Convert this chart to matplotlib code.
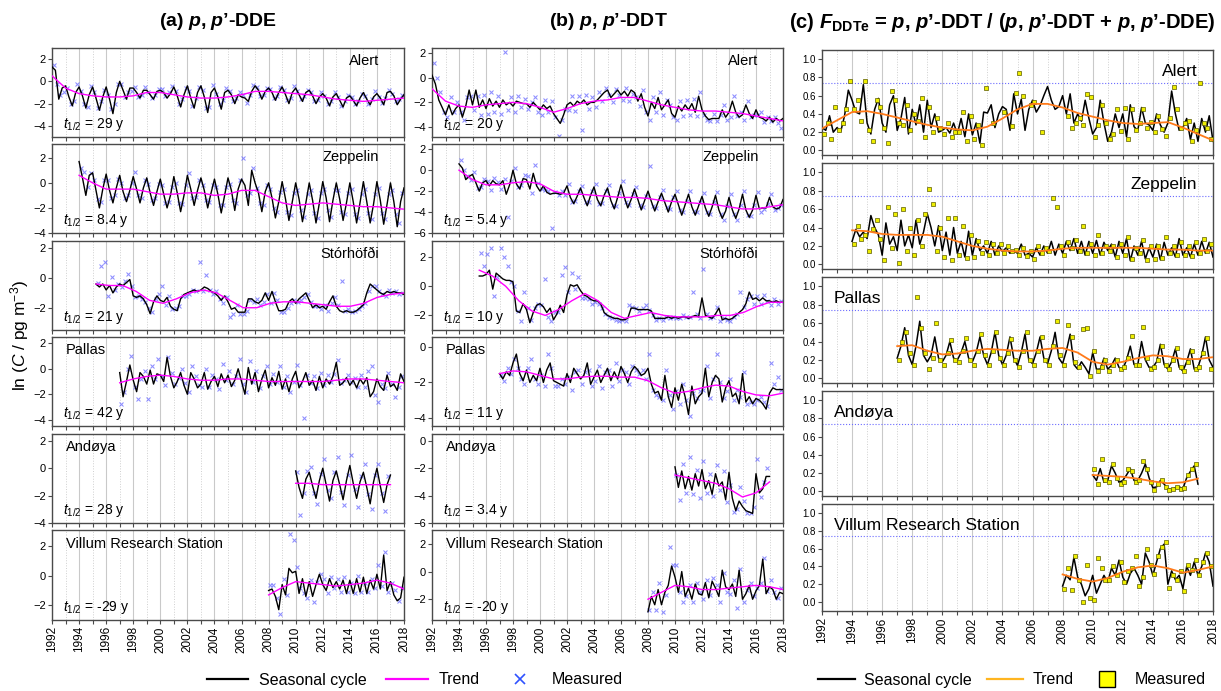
"""
plot.py
Seasonal cycle / trend / measured panels for p,p'-DDE, p,p'-DDT and F_DDTe.
"""

import numpy as np
import matplotlib
matplotlib.use("Agg")
import matplotlib.pyplot as plt
from matplotlib.lines import Line2D

plt.rcParams['font.family'] = ['Liberation Sans', 'DejaVu Sans']
plt.rcParams['mathtext.fontset'] = 'custom'
plt.rcParams['mathtext.rm'] = 'Liberation Sans'
plt.rcParams['mathtext.it'] = 'Liberation Sans:italic'
plt.rcParams['mathtext.bf'] = 'Liberation Sans:bold:italic'
plt.rcParams['mathtext.sf'] = 'Liberation Sans:bold'

nan = np.nan

STATIONS = ["Alert", "Zeppelin", "Stórhöfði", "Pallas", "Andøya", "Villum Research Station"]
STATIONS_C = ["Alert", "Zeppelin", "Pallas", "Andøya", "Villum Research Station"]
HALF_LIFE_DDE = ["29", "8.4", "21", "42", "28", "-29"]
HALF_LIFE_DDT = ["20", "5.4", "10", "11", "3.4", "-20"]
YEAR_TICKS = list(range(1992, 2019, 2))

# ---------------- (a) p,p'-DDE, ln(C) ----------------
dde_alert_span = (1992.0, 2018.0)
dde_alert_meas_span = (1992.125, 2017.875)
dde_alert_seas = [1.3, 1.0, -1.6, -0.6, -0.4, -1.4, -2.2, -1.0, -0.5, -1.3, -2.4, -1.2,
                  -0.5, -1.5, -2.6, -1.4, -0.5, -1.6, -2.9, -1.0, 0.0, -0.8, -1.6, -0.6,
                  -0.6, -1.0, -1.5, -0.8, -0.8, -1.2, -1.6, -0.9, -0.8, -1.0, -1.5, -1.1,
                  -0.5, -1.3, -2.3, -1.2, -0.4, -1.5, -2.4, -1.0, -0.4, -1.4, -2.8, -1.0,
                  -0.6, -1.4, -2.5, -1.0, -0.8, -1.2, -2.0, -1.2, -1.4, -1.5, -1.8, -0.9,
                  -0.4, -0.8, -1.6, -0.9, -0.6, -1.0, -1.7, -1.0, -0.5, -1.2, -2.0, -1.0,
                  -0.6, -1.2, -1.8, -1.0, -0.8, -1.3, -2.0, -1.4, -1.1, -1.5, -2.2, -1.4,
                  -1.1, -1.7, -2.3, -1.5, -1.3, -1.7, -2.2, -1.5, -1.0, -1.6, -2.1, -1.4,
                  -1.1, -1.5, -2.1, -1.0, -0.9, -1.3, -2.1, -1.6, -1.2]
dde_alert_trend = [0.5, -0.6, -1.1, -1.3, -1.4, -1.4, -1.3, -1.0, -1.0, -1.2, -1.4, -1.5,
                   -1.5, -1.4, -1.2, -0.9, -0.9, -1.0, -1.1, -1.2, -1.4, -1.6, -1.7, -1.8,
                   -1.7, -1.6, -1.5]
dde_alert_meas = [1.5, -0.2, -1.2, -1.0, -0.6, -2.0, -1.8, -0.2, -0.9, -2.0, -2.3, -0.4,
                  -1.0, -2.4, -1.8, -0.8, -1.2, -2.5, -2.0, -0.2, -0.2, -1.4, -1.0, -0.9,
                  -0.5, -1.4, -1.2, -0.5, -1.0, -1.5, -1.2, -0.7, -0.7, -1.3, -1.0, -0.4,
                  -0.9, -2.0, -1.6, -0.6, -0.9, -2.2, -1.5, -0.5, -0.8, -2.4, -2.3, -0.3,
                  -1.1, -2.0, -1.7, -0.6, -0.9, -1.8, -1.5, -1.0, -1.2, -1.9, -1.2, -0.3,
                  -0.5, -1.3, -1.2, -0.6, -0.7, -1.5, -1.3, -0.5, -0.8, -1.7, -1.5, -0.4,
                  -0.9, -1.6, -1.3, -0.8, -1.0, -1.8, -1.7, -1.0, -1.3, -2.0, -1.8, -1.0,
                  -1.4, -2.2, -1.8, -1.2, -1.4, -2.0, -1.8, -1.1, -1.3, -2.0, -1.6, -0.9,
                  -1.4, -1.9, -1.5, -0.8, -1.1, -1.8, -1.6, -1.2]

dde_zep_span = (1994.0, 2018.0)
dde_zep_meas_span = (1994.125, 2017.875)
dde_zep_seas = [1.7, 0.4, -1.0, 0.6, 0.8, -0.6, -2.0, -0.5, 0.7, -0.6, -1.6, -0.4,
                0.6, -0.7, -1.5, -0.6, 0.5, -0.5, -1.6, -0.4, 0.4, -0.8, -1.8, -0.7,
                0.3, -0.9, -2.0, -1.0, 0.5, -0.8, -2.3, -1.0, 0.6, -0.5, -1.8, -0.6,
                0.4, -0.6, -2.0, -0.8, 0.3, -0.9, -2.4, -1.0, 0.4, -0.6, -2.2, -0.5,
                0.3, -0.2, -1.8, 1.0, 0.0, -0.8, -2.3, -0.7, 0.0, -1.2, -2.8, -1.5,
                0.1, -1.3, -3.0, -1.5, 0.0, -1.3, -3.1, -1.6, 0.0, -1.4, -3.2, -1.6,
                0.1, -1.2, -3.1, -1.4, 0.0, -1.3, -3.0, -1.6, 0.0, -1.5, -3.2, -1.6,
                0.1, -1.5, -3.2, -1.7, 0.1, -1.4, -3.3, -1.7, 0.0, -1.5, -3.5, -1.5,
                -0.4]
dde_zep_trend = [0.6, 0.0, -0.5, -0.5, -0.5, -0.7, -0.9, -0.9, -0.8, -0.8, -1.0, -0.9,
                 -0.6, -0.6, -1.1, -1.6, -1.8, -1.7, -1.6, -1.7, -1.8, -1.9, -1.9, -2.0,
                 -2.1]
dde_zep_meas = [1.2, 0.9, -0.3, 0.8, 0.2, -1.3, -1.5, 0.2, 0.2, -1.2, -1.0, 0.3,
                0.0, -1.2, -1.0, 0.0, 0.9, -1.0, -1.2, 0.2, -0.1, -1.4, -1.2, -0.1,
                -0.2, -1.6, -1.5, -0.3, 0.0, -1.6, -1.7, -0.2, 0.8, -1.2, -1.1, 0.2,
                -0.2, -1.4, -1.5, -0.2, -0.3, -1.8, -1.8, -0.3, -0.1, -1.4, -1.6, 0.2,
                2.0, -1.0, -0.8, 1.2, -0.4, -1.6, -1.8, -0.2, -0.5, -2.0, -2.3, -0.7,
                -0.5, -2.3, -2.6, -0.8, -0.6, -2.2, -2.7, -0.9, -0.6, -2.4, -2.8, -0.8,
                -0.5, -2.2, -2.7, -0.6, -0.6, -2.3, -2.5, -0.8, -0.5, -2.5, -2.8, -0.9,
                -0.5, -2.4, -2.9, -0.9, -0.4, -2.4, -2.9, -0.9, -0.6, -2.5, -3.2, -0.8]

dde_sto_span = (1995.25, 2018.0)
dde_sto_meas_span = (1995.4, 2017.9)
dde_sto_seas = [-0.4, -0.6, -0.4,
                -0.8, -0.5, -1.0, -0.6, -0.4, -0.5, -0.3, -0.1, -1.2, -1.3, -1.2, -1.4,
                -1.8, -2.4, -1.6, -1.2, -1.5, -1.6, -1.3, -1.9, -2.1, -2.2, -1.4, -1.1,
                -1.0, -0.9, -0.8, -0.9, -0.8, -0.6, -0.7, -0.9, -1.0, -1.2, -1.5, -1.2,
                -1.6, -2.1, -2.0, -2.3, -2.3, -2.3, -1.4, -1.4, -1.6, -1.7, -1.5, -1.0,
                -1.5, -0.9, -1.6, -2.2, -2.2, -2.1, -1.6, -1.4, -1.7, -1.4, -1.2, -1.0,
                -1.5, -2.0, -1.8, -2.0, -1.9, -2.1, -1.6, -1.2, -1.9, -2.2, -2.3, -2.2,
                -2.3, -2.3, -2.2, -2.0, -1.8, -1.0, -0.4, -0.6, -0.8, -1.0, -1.1, -0.9,
                -1.0, -0.9, -1.0, -1.0, -1.1]
dde_sto_trend = [-0.4, -0.5, -0.5, -0.9, -1.5, -1.7, -1.4, -1.0, -0.8, -1.0, -1.5, -2.0,
                 -2.0, -1.7, -1.6, -1.6, -1.7, -1.8, -1.9, -1.9, -1.7, -1.3, -1.1, -1.0]
dde_sto_meas = [-0.3, 0.8, 1.1,
                -1.2, 0.1, -0.8, -0.4, -0.6, -0.2, 0.3, -0.5, -1.3, -1.2, -1.4, -1.6,
                -2.0, -2.3, -1.4, -1.1, -0.5, -1.8, -1.2, -2.1, -2.0, -1.9, -1.2, -1.2,
                -1.1, -0.8, -0.9, 1.1, -0.9, 0.2, -0.8, -1.1, -0.9, -1.4, -1.7, -1.3,
                -2.6, -2.4, -1.8, -2.4, -2.4, -2.2, -1.5, -1.6, -1.4, -1.8, -1.6, -1.1,
                -1.7, -1.0, -1.5, -2.3, -2.3, -2.0, -1.7, -1.5, -1.6, -1.5, -1.3, -1.1,
                -1.6, -1.9, -1.9, -2.1, -1.8, -2.2, -1.7, -1.3, -1.8, -0.2, -2.2, -2.1,
                -2.3, -2.2, -2.1, -1.9, -1.7, -0.9, -0.5, -0.5, -0.9, -1.1, -1.2, -0.8,
                -1.0, -0.9, -1.1, -1.0]

dde_pal_span = (1997.0, 2018.0)
dde_pal_meas_span = (1997.1, 2017.85)
dde_pal_seas = [-0.3, -2.2, -1.0, 0.3, -0.9, -1.8, -0.3, -0.6, -1.2, -0.1, -1.2, -0.4,
                -0.5, -1.0, 0.9, -0.6, -1.5, -1.0, -0.3, -1.3, -2.0, -0.3, -0.8, -1.5,
                -1.2, -0.3, -1.6, -1.0, -0.6, -1.4, -0.4, -1.1, -0.5, -1.4, -0.9, 0.0,
                -1.0, -2.0, 0.1, -1.2, -0.3, -1.8, -0.8, -0.1, -1.5, -0.7, -1.3, -0.2,
                -1.6, -0.8, -1.8, -0.8, -0.2, -1.5, -1.0, -0.3, -1.3, -0.9, -1.7, -0.6,
                -1.5, -0.8, -1.2, -0.6, 0.5, -1.3, -1.1, -0.7, -1.3, -0.9, -1.5, -0.8,
                -1.2, -0.7, -2.2, -1.8, -0.8, -1.4, -1.7, -0.5, -1.4, -1.2, -1.7, -0.4,
                -1.0]
dde_pal_trend = [-1.1, -0.8, -0.6, -0.5, -0.6, -0.8, -0.9, -0.9, -0.8, -0.8, -0.9, -1.0,
                 -1.0, -1.0, -1.0, -1.0, -0.9, -0.8, -0.8, -0.9, -1.0, -1.1]
dde_pal_meas = [-2.8, -1.8, 0.0, 1.0, -1.4, -2.4, -0.8, -0.2, -2.4, 0.2, -0.8, 0.8,
                -0.6, -1.3, 0.9, -0.3, -1.2, -0.7, 0.0, -1.1, -1.8, 0.2, -0.6, -1.3,
                -1.4, 0.0, -1.4, -0.5, -0.8, -1.6, 0.4, -0.9, -0.2, -1.2, -0.6, 0.8,
                -1.2, -1.8, 0.6, -1.0, -0.2, -1.5, -0.6, 0.2, -1.2, -0.4, -1.0, 0.2,
                -1.4, -0.6, -1.8, -1.0, 0.3, -1.3, -3.9, -0.5, -1.1, -0.6, -1.5, -0.3,
                -1.3, -0.5, -1.0, -0.4, 0.7, -1.1, -0.9, -0.5, -1.0, -0.7, -1.4, -0.5,
                -1.4, -0.2, 0.2, -2.1, -2.6, -1.2, -1.5, -0.3, -1.2, -2.2, -1.4, -0.6]

dde_and_span = (2010.0, 2017.0)
dde_and_meas_span = (2010.1, 2016.85)
dde_and_seas = [-0.2, -1.4, -2.2, -0.8, -0.3, -1.3, -2.2, -0.9, 0.0, -1.2, -2.4, -0.9,
                -0.2, -1.2, -2.3, -0.9, 0.2, -1.1, -2.2, -1.0, -0.3, -1.4, -2.6, -1.0,
                0.0, -1.3, -2.5, -1.2, -0.5]
dde_and_trend = [-1.1, -1.1, -1.2, -1.2, -1.2, -1.2, -1.2, -1.2]
dde_and_meas = [-0.3, -3.4, -1.8, -0.2, 0.1, -1.8, -2.6, -0.4, 0.7, -1.6, -2.2, -0.3,
                0.8, -1.7, -2.7, -0.5, 1.0, -1.5, -2.8, -0.6, 0.3, -1.9, -3.0, -0.5,
                0.3, -1.8, -3.1, -0.6]

dde_vil_span = (2008.0, 2018.0)
dde_vil_meas_span = (2008.1, 2017.85)
dde_vil_seas = [-1.0, -0.9, -1.4, -2.3, -0.6, -1.3, 0.5, 0.2, 0.3, -1.2, -0.2, -1.4,
                -0.4, -1.4, -0.6, 0.1, -0.6, -1.0, -0.2, -0.8, -0.4, -0.9, -0.3, -1.2,
                -0.3, -1.2, -0.2, -1.1, -0.1, -1.2, -0.3, -0.9, 0.1, -0.9, 1.4, -1.0,
                -0.4, -1.3, -1.7, -1.5, -0.1]
dde_vil_trend = [-1.3, -0.8, -0.4, -0.5, -0.6, -0.7, -0.6, -0.5, -0.3, -0.5, -0.9]
dde_vil_meas = [-0.6, -0.6, -1.5, -2.6, -0.2, -1.3, 2.8, 2.4, 0.6, -0.8, -1.2, -1.5,
                -0.3, -1.8, -0.4, 0.1, -0.2, -1.2, -0.1, -0.8, -0.2, -1.1, -0.1, -1.1,
                -0.5, -1.2, 0.0, -1.1, -0.5, -1.1, -0.2, -0.8, 0.7, -0.7, 1.6, -1.1,
                -0.5, -1.0, -1.7, -0.8]

# ---------------- (b) p,p'-DDT, ln(C) ----------------
ddt_alert_span = (1992.0, 2018.0)
ddt_alert_meas_span = (1992.125, 2017.875)
ddt_alert_seas = [0.2, -0.5, -1.8, -2.4, -3.0, -2.2, -3.0, -2.5, -2.2, -3.2, -2.3, -1.0,
                  -2.2, -1.0, -2.4, -1.8, -2.5, -1.7, -2.3, -1.9, -2.4, -1.8, -2.2, -2.0,
                  -2.3, -1.9, -2.0, -2.1, -2.1, -2.4, -2.0, -2.3, -2.6, -2.2, -2.5, -2.3,
                  -2.9, -3.3, -3.7, -3.0, -2.2, -2.0, -2.3, -1.9, -2.1, -1.8, -2.2, -2.0,
                  -2.0, -1.8, -1.5, -1.2, -1.0, -1.6, -1.3, -1.0, -1.4, -1.1, -1.5, -1.0,
                  -1.2, -1.9, -1.3, -2.4, -3.1, -2.0, -2.5, -1.6, -2.6, -2.2, -1.8, -2.9,
                  -3.2, -2.3, -2.7, -2.2, -2.6, -2.1, -2.8, -1.5, -2.6, -3.1, -3.4, -3.3,
                  -3.3, -3.3, -2.6, -3.2, -2.8, -1.9, -2.8, -3.2, -3.0, -2.2, -2.9, -3.3,
                  -2.6, -3.2, -3.3, -3.5, -3.2, -3.6, -3.3, -3.5, -3.3]
ddt_alert_trend = [-0.9, -1.9, -2.3, -2.4, -2.2, -2.1, -2.0, -2.1, -2.4, -2.8, -2.5, -2.1,
                   -1.9, -1.8, -1.6, -1.6, -1.9, -2.2, -2.4, -2.6, -2.7, -2.7, -2.8, -2.9,
                   -3.1, -3.3, -3.5]
ddt_alert_meas = [1.2, 0.0, -1.2, -2.8, -3.2, -1.6, -2.8, -2.0, -2.8, -3.4, -1.6, -1.5,
                  -2.6, -1.5, -3.0, -1.4, -2.9, -1.2, -2.8, -1.5, -2.9, 2.1, -2.6, -1.6,
                  -2.8, -1.5, -2.4, -1.7, -2.5, -2.0, -1.6, -2.8, -3.0, -1.8, -2.8, -1.9,
                  -3.2, -4.7, -3.4, -2.5, -2.6, -1.5, -2.7, -1.5, -4.2, -1.4, -2.5, -1.6,
                  -2.4, -1.2, -1.9, -0.8, -1.4, -2.0, -0.9, -1.4, -1.8, -0.8, -1.9, -1.3,
                  -1.6, -2.3, -1.0, -2.8, -3.4, -1.6, -2.8, -1.2, -3.0, -1.8, -2.2, -3.2,
                  -3.4, -1.9, -3.1, -1.8, -3.0, -1.7, -3.1, -1.2, -3.0, -3.4, -3.5, -2.9,
                  -3.5, -3.0, -2.2, -3.4, -3.2, -1.5, -3.1, -2.8, -3.4, -1.9, -3.2, -3.0,
                  -3.0, -2.8, -3.6, -3.2, -3.5, -3.2, -3.7, -4.1]

ddt_zep_span = (1994.0, 2018.0)
ddt_zep_meas_span = (1994.125, 2017.875)
ddt_zep_seas = [0.6, 0.2, -0.9, -0.6, -0.4, -1.2, -2.0, -1.2, -1.0, -1.5, -1.0, -1.3,
                -1.4, -1.0, -2.3, -1.4, 0.0, -1.3, -1.8, -0.8, -0.9, -1.8, -0.3, -1.5,
                -2.0, -1.5, -2.1, -2.3, -2.2, -2.2, -2.3, -2.2, -1.5, -2.6, -3.2, -2.5,
                -1.7, -2.6, -3.4, -2.4, -1.6, -2.8, -3.4, -2.4, -1.7, -2.9, -3.7, -2.6,
                -1.4, -2.6, -3.6, -2.8, -1.8, -2.8, -3.8, -2.9, -2.0, -3.0, -3.9, -3.0,
                -2.2, -3.1, -4.0, -3.0, -2.3, -3.3, -4.3, -3.3, -2.3, -3.5, -4.3, -3.4,
                -2.5, -3.6, -4.4, -3.5, -2.4, -3.8, -4.6, -3.9, -2.6, -3.8, -4.6, -3.7,
                -2.3, -3.8, -4.5, -3.8, -2.4, -3.7, -3.6, -3.6, -2.6, -3.5, -3.7, -3.6,
                -2.8]
ddt_zep_trend = [0.0, -0.9, -1.4, -1.4, -1.2, -1.1, -1.3, -2.0, -2.3, -2.3, -2.4, -2.5,
                 -2.6, -2.6, -2.7, -2.9, -3.0, -3.1, -3.2, -3.3, -3.5, -3.7, -3.7, -3.5,
                 -3.3]
ddt_zep_meas = [1.0, 0.0, -0.6, -0.9, -0.2, -1.7, -1.6, -0.8, -1.0, -1.9, -0.7, -1.1,
                -1.8, -0.8, -4.5, -1.0, 0.2, -1.6, -1.4, -0.5, -0.6, -2.2, 0.5, -1.2,
                -1.8, -1.9, -2.0, -5.5, -2.1, -2.4, -2.0, -2.4, -1.3, -3.0, -2.9, -2.0,
                -1.5, -3.0, -3.0, -2.0, -1.3, -3.2, -3.1, -2.0, -1.4, -3.3, -3.4, -2.2,
                -1.0, -3.0, -3.3, -2.3, -1.6, -3.3, -3.5, -2.5, 0.4, -3.4, -3.6, -2.6,
                -1.9, -3.5, -3.7, -2.6, -2.0, -3.8, -4.0, -2.9, -2.0, -3.9, -4.0, -3.0,
                -2.2, -4.0, -4.2, -3.0, -2.1, -4.2, -4.8, -3.4, -2.3, -4.2, -4.8, -3.3,
                -2.0, -4.3, -4.4, -3.3, -2.1, -4.0, -3.7, -3.2, -2.3, -3.8, -3.6, -3.3]

ddt_sto_span = (1995.5, 2018.0)
ddt_sto_meas_span = (1995.6, 2017.85)
ddt_sto_seas = [0.7, 0.7,
                0.8, 1.1, -0.2, 0.9, 0.7, 0.5, 0.4, 0.4, 0.3, -1.7, -1.8, -1.2,
                -1.6, -2.5, -1.8, -1.3, -1.2, -1.4, -1.8, -1.5, -2.3, -1.9, -1.3, -1.8,
                -0.6, 0.1, 0.0, 0.1, -0.3, -0.6, -0.7, -0.9, -1.0, -1.0, -1.2, -1.8,
                -2.0, -2.1, -2.2, -2.2, -2.3, -2.3, -2.2, -1.5, -1.5, -1.6, -1.6, -1.6,
                -1.6, -1.7, -2.2, -2.2, -2.2, -2.2, -2.1, -2.2, -2.1, -2.2, -2.1, -2.1,
                -2.2, -2.1, -2.0, -2.1, -0.8, -2.0, -2.1, -2.2, -1.9, -1.5, -2.3, -2.2,
                -2.3, -2.2, -2.0, -1.8, -1.6, -1.2, -0.4, -0.9, -0.8, -1.0, -0.8, -1.0,
                -1.0, -1.1, -1.0, -1.1, -1.1]
ddt_sto_trend = [1.1, 0.7, 0.0, -1.0, -1.7, -2.0, -1.6, -1.0, -0.5, -1.0, -1.8, -2.2,
                 -2.0, -1.8, -2.0, -2.1, -2.1, -2.1, -2.0, -2.0, -1.8, -1.4, -1.1, -1.1]
ddt_sto_meas = [2.3, 1.4,
                2.2, 2.6, -0.7, 0.6, 2.6, 2.0, 1.4, 0.3, 0.0, -1.7, -2.4, -0.4,
                -1.5, -2.3, -1.5, -1.2, -1.3, 0.5, -2.1, -2.4, -1.8, -1.8, 0.8, 1.3,
                -0.4, 0.9, -0.2, 0.6, -0.8, -0.8, -0.9, -1.2, -1.1, -1.2, -1.5, -1.9,
                -2.1, -2.2, -2.3, -2.4, -2.3, -2.4, -1.3, -1.4, -1.5, -1.7, -1.5, -1.3,
                -1.6, -2.0, -2.3, -2.2, -2.3, -2.1, -2.2, -2.1, -2.2, -2.2, -2.0, -2.1,
                -2.1, -0.4, -1.9, -2.2, 1.2, -1.9, -2.2, -2.1, -1.4, -2.4, -2.2, -2.3,
                -2.4, -2.1, -1.9, -0.4, -1.4, -0.9, -0.7, -1.2, -0.7, -1.2, -0.6, -1.0,
                -1.3, -0.9, -1.2, -1.0]

ddt_pal_span = (1997.0, 2018.0)
ddt_pal_meas_span = (1997.1, 2017.85)
ddt_pal_seas = [-1.5, -1.8, -1.4, -1.6, -0.9, -0.4, -1.5, -1.9, -1.3, -2.0, -1.6, -1.9,
                -1.2, -2.0, -1.3, -0.9, -1.9, -2.0, -2.1, -2.2, -1.5, -2.0, -1.2, -1.5,
                -1.8, -1.6, -0.9, -2.1, -1.7, -1.3, -2.0, -1.6, -1.2, -1.9, -1.4, -1.8,
                -1.1, -1.5, -2.0, -1.4, -1.1, -1.3, -1.6, -1.5, -1.2, -2.1, -2.6, -2.5,
                -3.0, -1.6, -2.8, -3.4, -2.3, -3.0, -2.1, -2.8, -3.8, -2.2, -3.2, -2.8,
                -2.6, -1.2, -2.8, -2.0, -1.6, -1.8, -3.1, -2.3, -1.9, -2.8, -2.6, -3.2,
                -1.5, -3.1, -2.8, -3.2, -2.9, -3.0, -3.2, -3.5, -2.6, -2.3, -2.4, -2.4,
                -2.4]
ddt_pal_trend = [-1.5, -1.35, -1.4, -1.6, -1.8, -1.8, -1.7, -1.65, -1.65, -1.7, -1.7, -1.9,
                 -2.3, -2.6, -2.5, -2.3, -2.15, -2.2, -2.5, -2.7, -2.75, -2.6]
ddt_pal_meas = [-1.6, -1.9, -1.2, -1.5, -0.7, -1.2, -1.8, -2.1, -1.2, -0.7, -1.8, -2.1,
                -1.6, -2.2, -0.4, -1.2, -2.2, -2.2, -1.8, -2.1, -1.7, -2.4, -1.4, -1.3,
                -2.1, -1.4, -1.3, -2.2, -1.9, -1.1, -2.3, -1.4, -1.3, -2.2, -0.9, -1.9,
                -1.3, -1.4, -2.1, -1.1, -1.3, -1.5, -1.3, -1.8, -0.4, -2.4, -2.7, -2.8,
                -3.0, -1.3, -2.7, -3.5, -2.5, -3.2, -2.1, -3.0, -3.9, -2.6, -2.9, -2.5,
                -2.4, -1.1, -2.9, -1.8, -0.4, -2.0, -2.9, -2.5, -1.8, -3.0, -2.4, -2.8,
                -1.4, -3.2, -3.1, -3.2, -3.0, -2.8, -3.1, -3.3, -0.9, -2.1, -1.7, -2.4]

ddt_and_span = (2010.0, 2017.0)
ddt_and_meas_span = (2010.1, 2016.85)
ddt_and_seas = [-1.9, -3.4, -2.2, -3.5, -2.6, -3.6, -2.4, -3.3, -2.1, -3.5, -2.9, -3.9,
                -2.4, -3.3, -3.0, -4.3, -2.3, -4.2, -5.1, -4.4, -4.8, -5.1, -5.2, -5.3,
                -2.4, -3.8, -3.5, -2.6, -2.6]
ddt_and_trend = [-2.5, -2.7, -2.9, -3.1, -3.5, -4.1, -3.8, -3.0]
ddt_and_meas = [-2.5, -4.3, -1.7, -3.8, -1.2, -3.9, -2.1, -4.2, -1.5, -3.8, -2.4, -4.0,
                -1.8, -3.6, -2.2, -4.5, -3.2, -5.2, -5.0, -3.4, -4.4, -5.3, -5.3, -4.8,
                -1.3, -4.1, -3.0, -2.0]

ddt_vil_span = (2008.0, 2018.0)
ddt_vil_meas_span = (2008.1, 2017.85)
ddt_vil_seas = [-2.9, -1.8, -2.4, -1.3, -2.4, -1.5, -1.0, 0.4, -0.4, -1.5, 0.0, -1.8,
                -1.2, -2.0, -0.9, -1.6, -1.7, -0.8, -1.9, -0.7, -1.2, -1.8, 0.1, -1.1,
                -1.3, -0.9, -1.8, 0.1, -2.0, -1.6, -1.0, -2.0, -1.4, -1.0, 0.9, -1.6,
                -1.1, -1.3, -2.0, -1.5, -1.6]
ddt_vil_trend = [-2.0, -1.5, -1.0, -1.1, -1.3, -1.3, -1.2, -1.1, -1.0, -1.1, -1.3]
ddt_vil_meas = [-2.8, -1.5, -2.8, -0.8, -2.9, -1.7, 1.8, 0.5, 0.5, -1.5, -2.2, -1.8,
                -1.0, -2.2, -0.8, -1.5, -2.0, -0.6, -1.7, -0.5, -1.0, -2.2, -0.1, -1.5,
                -1.6, -0.6, -2.6, 0.2, -2.2, -1.3, -0.8, -1.8, -1.2, -0.8, 1.0, -1.4,
                -0.6, -1.5, -1.9, -1.2]

# ---------------- (c) F_DDTe ----------------
fd_alert_span = (1992.0, 2018.0)
fd_alert_meas_span = (1992.125, 2017.875)
fd_alert_seas = [0.25, 0.22, 0.38, 0.20, 0.25, 0.21, 0.38, 0.66, 0.55, 0.42, 0.40, 0.72,
                 0.30, 0.18, 0.45, 0.57, 0.30, 0.20, 0.50, 0.60, 0.22, 0.35, 0.58, 0.18,
                 0.45, 0.28, 0.50, 0.20, 0.55, 0.25, 0.40, 0.20, 0.22, 0.25, 0.19, 0.30,
                 0.18, 0.35, 0.15, 0.40, 0.17, 0.30, 0.08, 0.42, 0.41, 0.50, 0.25, 0.40,
                 0.48, 0.45, 0.22, 0.62, 0.40, 0.56, 0.22, 0.45, 0.55, 0.42, 0.49, 0.60,
                 0.70, 0.55, 0.45, 0.48, 0.60, 0.40, 0.62, 0.30, 0.40, 0.32, 0.55, 0.35,
                 0.18, 0.25, 0.55, 0.30, 0.10, 0.20, 0.40, 0.25, 0.40, 0.15, 0.50, 0.26,
                 0.22, 0.47, 0.30, 0.28, 0.22, 0.40, 0.28, 0.20, 0.30, 0.65, 0.40, 0.22,
                 0.25, 0.35, 0.12, 0.30, 0.10, 0.35, 0.20, 0.38, 0.10]
fd_alert_trend = [0.24, 0.33, 0.42, 0.43, 0.40, 0.36, 0.32, 0.28, 0.25, 0.23, 0.22, 0.26,
                  0.35, 0.45, 0.51, 0.51, 0.47, 0.41, 0.37, 0.33, 0.30, 0.29, 0.30, 0.31,
                  0.25, 0.18, 0.11]
fd_alert_meas = [0.18, 0.30, 0.12, 0.48, 0.22, 0.30, 0.45, 0.76, 0.45, 0.55, 0.32, 0.76,
                 0.22, 0.10, 0.55, 0.48, 0.25, 0.08, 0.65, 0.55, 0.30, 0.28, 0.50, 0.22,
                 0.40, 0.32, 0.57, 0.15, 0.48, 0.20, 0.35, 0.25, 0.18, 0.30, 0.15, 0.20,
                 0.20, 0.42, 0.10, 0.38, 0.12, 0.28, 0.06, 0.68, nan, 0.30, nan, nan,
                 0.42, nan, 0.27, 0.63, 0.85, 0.60, nan, 0.50, 0.53, nan, 0.20, nan,
                 nan, nan, nan, nan, nan, 0.38, 0.25, 0.30, 0.35, 0.28, 0.62, 0.58,
                 0.15, 0.28, 0.50, 0.30, 0.12, 0.18, 0.45, 0.21, 0.46, 0.12, 0.45, 0.22,
                 0.30, 0.45, 0.25, 0.31, 0.20, 0.38, 0.24, 0.16, 0.35, 0.70, 0.45, 0.25,
                 0.30, 0.32, 0.10, 0.22, 0.74, 0.30, 0.25, 0.12]

fd_zep_span = (1994.0, 2018.0)
fd_zep_meas_span = (1994.125, 2017.875)
fd_zep_seas = [0.25, 0.38, 0.30, 0.35, 0.28, 0.53, 0.40, 0.32, 0.10, 0.45, 0.22, 0.30,
               0.15, 0.48, 0.20, 0.32, 0.18, 0.48, 0.22, 0.35, 0.55, 0.40, 0.20, 0.42,
               0.15, 0.35, 0.10, 0.40, 0.12, 0.25, 0.08, 0.36, 0.10, 0.28, 0.15, 0.20,
               0.12, 0.25, 0.10, 0.20, 0.14, 0.18, 0.12, 0.15, 0.12, 0.22, 0.10, 0.12,
               0.08, 0.18, 0.10, 0.20, 0.12, 0.25, 0.10, 0.22, 0.12, 0.25, 0.15, 0.28,
               0.12, 0.25, 0.10, 0.25, 0.12, 0.26, 0.10, 0.24, 0.15, 0.22, 0.08, 0.25,
               0.12, 0.28, 0.04, 0.20, 0.10, 0.25, 0.06, 0.18, 0.08, 0.22, 0.05, 0.24,
               0.10, 0.18, 0.08, 0.28, 0.10, 0.18, 0.08, 0.22, 0.10, 0.25, 0.12, 0.24,
               0.08]
fd_zep_trend = [0.37, 0.36, 0.33, 0.32, 0.32, 0.32, 0.30, 0.25, 0.20, 0.17, 0.15, 0.14,
                0.14, 0.15, 0.17, 0.18, 0.18, 0.18, 0.18, 0.18, 0.17, 0.16, 0.16, 0.15,
                0.15]
fd_zep_meas = [0.22, 0.42, 0.28, 0.32, 0.15, 0.38, 0.48, 0.28, 0.05, 0.62, 0.18, 0.55,
               0.02, 0.60, 0.15, 0.40, 0.10, 0.48, 0.20, 0.55, 0.82, 0.65, 0.15, 0.40,
               0.08, 0.50, 0.05, 0.50, 0.10, 0.42, 0.07, 0.32, 0.08, 0.25, 0.12, 0.24,
               0.10, 0.22, 0.12, 0.22, 0.12, 0.20, 0.14, 0.16, 0.10, 0.18, 0.09, 0.14,
               0.06, 0.20, 0.12, 0.18, 0.14, 0.72, 0.62, 0.20, 0.10, 0.24, 0.18, 0.26,
               0.14, 0.42, 0.12, 0.22, 0.10, 0.32, 0.12, 0.20, 0.14, 0.20, 0.08, 0.22,
               0.10, 0.30, 0.06, 0.18, 0.12, 0.26, 0.05, 0.20, 0.06, 0.20, 0.07, 0.30,
               0.12, 0.20, 0.10, 0.24, 0.10, 0.20, 0.09, 0.24, 0.12, 0.28, 0.14, 0.22]

fd_pal_span = (1997.0, 2018.0)
fd_pal_meas_span = (1997.1, 2017.85)
fd_pal_seas = [0.22, 0.35, 0.55, 0.25, 0.15, 0.35, 0.62, 0.25, 0.18, 0.25, 0.45, 0.22,
               0.18, 0.25, 0.40, 0.22, 0.20, 0.28, 0.40, 0.22, 0.18, 0.28, 0.45, 0.25,
               0.15, 0.28, 0.50, 0.25, 0.15, 0.25, 0.45, 0.22, 0.14, 0.28, 0.48, 0.20,
               0.16, 0.28, 0.45, 0.22, 0.16, 0.30, 0.50, 0.22, 0.16, 0.30, 0.48, 0.15,
               0.10, 0.18, 0.12, 0.05, 0.28, 0.10, 0.10, 0.22, 0.10, 0.14, 0.22, 0.12,
               0.10, 0.20, 0.35, 0.15, 0.15, 0.40, 0.20, 0.12, 0.12, 0.18, 0.37, 0.15,
               0.10, 0.18, 0.32, 0.12, 0.08, 0.18, 0.32, 0.10, 0.12, 0.25, 0.45, 0.20,
               0.12]
fd_pal_trend = [0.35, 0.36, 0.30, 0.26, 0.27, 0.30, 0.32, 0.31, 0.30, 0.30, 0.32, 0.33,
                0.28, 0.18, 0.15, 0.18, 0.22, 0.25, 0.24, 0.21, 0.21, 0.23]
fd_pal_meas = [0.20, 0.40, 0.50, 0.28, 0.15, 0.88, 0.55, 0.28, 0.10, 0.22, 0.60, 0.20,
               0.15, 0.28, 0.42, 0.20, 0.18, 0.30, 0.44, 0.20, 0.15, 0.30, 0.48, 0.25,
               0.14, 0.30, 0.50, 0.22, 0.14, 0.28, 0.43, 0.20, 0.12, 0.30, 0.50, 0.20,
               0.15, 0.30, 0.45, 0.20, 0.15, 0.35, 0.62, 0.25, 0.14, 0.58, 0.45, 0.18,
               0.12, 0.54, 0.55, 0.03, 0.30, 0.08, 0.12, 0.20, 0.08, 0.15, 0.20, 0.10,
               0.12, 0.22, 0.46, 0.15, 0.15, 0.56, 0.22, 0.10, 0.12, 0.20, 0.35, 0.15,
               0.10, 0.20, 0.33, 0.12, 0.08, 0.18, 0.30, 0.10, 0.12, 0.28, 0.44, 0.10]

fd_and_span = (2010.0, 2017.0)
fd_and_meas_span = (2010.1, 2016.85)
fd_and_seas = [0.18, 0.12, 0.25, 0.10, 0.12, 0.28, 0.20, 0.10, 0.12, 0.18, 0.25, 0.12,
               0.12, 0.20, 0.30, 0.15, 0.04, 0.05, 0.12, 0.08, 0.03, 0.02, 0.04, 0.05,
               0.03, 0.15, 0.22, 0.28, 0.08]
fd_and_trend = [0.18, 0.17, 0.16, 0.14, 0.11, 0.09, 0.10, 0.14]
fd_and_meas = [0.25, 0.08, 0.35, 0.12, 0.10, 0.30, 0.15, 0.08, 0.10, 0.25, 0.22, 0.10,
               0.12, 0.33, 0.25, 0.10, 0.02, 0.08, 0.12, 0.05, 0.02, 0.03, 0.05, 0.03,
               0.04, 0.18, 0.25, 0.30]

fd_vil_span = (2008.0, 2018.0)
fd_vil_meas_span = (2008.1, 2017.85)
fd_vil_seas = [0.18, 0.30, 0.25, 0.50, 0.28, 0.20, 0.07, 0.15, 0.30, 0.10, 0.20, 0.30,
               0.22, 0.38, 0.30, 0.47, 0.28, 0.20, 0.32, 0.38, 0.30, 0.20, 0.55, 0.45,
               0.30, 0.45, 0.60, 0.65, 0.20, 0.35, 0.25, 0.30, 0.15, 0.40, 0.30, 0.45,
               0.30, 0.40, 0.55, 0.45, 0.18]
fd_vil_trend = [0.31, 0.26, 0.23, 0.27, 0.34, 0.39, 0.41, 0.38, 0.33, 0.36, 0.40]
fd_vil_meas = [0.15, 0.38, 0.14, 0.52, 0.25, 0.00, 0.42, 0.05, 0.02, 0.50, 0.38, 0.25,
               0.25, 0.40, 0.30, 0.45, 0.22, 0.35, 0.38, 0.52, 0.18, 0.28, 0.60, 0.42,
               0.32, 0.52, 0.62, 0.67, 0.16, 0.30, 0.25, 0.35, 0.12, 0.42, 0.36, 0.47,
               0.30, 0.45, 0.55, 0.40]

# panel tables (station order as in the figure)
DDE_PANELS = [
    (dde_alert_span, dde_alert_seas, dde_alert_trend, dde_alert_meas_span, dde_alert_meas, (-5, 3), [-4, -2, 0, 2]),
    (dde_zep_span, dde_zep_seas, dde_zep_trend, dde_zep_meas_span, dde_zep_meas, (-4, 3.1), [-4, -2, 0, 2]),
    (dde_sto_span, dde_sto_seas, dde_sto_trend, dde_sto_meas_span, dde_sto_meas, (-3.5, 2.5), [-2, 0, 2]),
    (dde_pal_span, dde_pal_seas, dde_pal_trend, dde_pal_meas_span, dde_pal_meas, (-4.5, 2.5), [-4, -2, 0, 2]),
    (dde_and_span, dde_and_seas, dde_and_trend, dde_and_meas_span, dde_and_meas, (-4, 2.5), [-4, -2, 0, 2]),
    (dde_vil_span, dde_vil_seas, dde_vil_trend, dde_vil_meas_span, dde_vil_meas, (-3, 3.1), [-2, 0, 2]),
]
DDT_PANELS = [
    (ddt_alert_span, ddt_alert_seas, ddt_alert_trend, ddt_alert_meas_span, ddt_alert_meas, (-4.8, 2.4), [-4, -2, 0, 2]),
    (ddt_zep_span, ddt_zep_seas, ddt_zep_trend, ddt_zep_meas_span, ddt_zep_meas, (-6, 2.5), [-6, -4, -2, 0, 2]),
    (ddt_sto_span, ddt_sto_seas, ddt_sto_trend, ddt_sto_meas_span, ddt_sto_meas, (-3, 3.1), [-2, 0, 2]),
    (ddt_pal_span, ddt_pal_seas, ddt_pal_trend, ddt_pal_meas_span, ddt_pal_meas, (-4.45, 0.56), [-4, -2, 0]),
    (ddt_and_span, ddt_and_seas, ddt_and_trend, ddt_and_meas_span, ddt_and_meas, (-6, 0.5), [-6, -4, -2, 0]),
    (ddt_vil_span, ddt_vil_seas, ddt_vil_trend, ddt_vil_meas_span, ddt_vil_meas, (-3.5, 3), [-2, 0, 2]),
]
FD_PANELS = [
    (fd_alert_span, fd_alert_seas, fd_alert_trend, fd_alert_meas_span, fd_alert_meas, (-0.05, 1.1)),
    (fd_zep_span, fd_zep_seas, fd_zep_trend, fd_zep_meas_span, fd_zep_meas, (-0.05, 1.1)),
    (fd_pal_span, fd_pal_seas, fd_pal_trend, fd_pal_meas_span, fd_pal_meas, (-0.05, 1.1)),
    (fd_and_span, fd_and_seas, fd_and_trend, fd_and_meas_span, fd_and_meas, (-0.05, 1.1)),
    (fd_vil_span, fd_vil_seas, fd_vil_trend, fd_vil_meas_span, fd_vil_meas, (-0.1, 1.1)),
]

W, H = 1221, 691
ROWS_AB = [(48, 137), (144, 233), (241, 330), (337, 426), (434, 523), (530, 620)]
ROWS_C = [(50, 155), (163, 269), (277, 383), (391, 496), (504, 611)]
COL_A = (52, 404)
COL_B = (432, 783)
COL_C = (822, 1213)

MEAS_BLUE = '#6f6fff'
TREND_PINK = '#ff00ff'
TREND_ORANGE = '#ff7a1a'
SPINE = '#4a4a4a'


def px_axes(fig, col, row):
    l, r = col
    t, b = row
    return fig.add_axes([l / W, 1 - b / H, (r - l) / W, (b - t) / H])


def style_axes(ax, last, tick_size=8):
    ax.set_xlim(1992, 2018)
    ax.set_xticks(YEAR_TICKS)
    ax.set_xticks(range(1993, 2018, 2), minor=True)
    ax.grid(axis='x', which='major', color='#c9c9c9', lw=0.8)
    ax.grid(axis='x', which='minor', color='#cfcfcf', lw=0.7, ls=':')
    ax.set_axisbelow(True)
    for s in ax.spines.values():
        s.set_color(SPINE)
        s.set_linewidth(1.0)
    ax.tick_params(which='both', direction='out', length=3, width=0.8, color=SPINE,
                   labelsize=tick_size, pad=1.5)
    if last:
        ax.set_xticklabels([str(y) for y in YEAR_TICKS], rotation=90, fontsize=8.5)
    else:
        ax.set_xticklabels([])


def draw_ln_panel(ax, panel, name, half, i):
    span, seas, trend, mspan, meas, ylim, yticks = panel
    ax.plot(np.linspace(*mspan, len(meas)), meas, ls='none', marker='x', ms=3.4,
            mew=0.75, color=MEAS_BLUE, alpha=0.8, zorder=2)
    ax.plot(np.linspace(*span, len(seas)), seas, color='k', lw=1.0, zorder=3)
    ax.plot(np.linspace(*span, len(trend)), trend, color=TREND_PINK, lw=1.0, zorder=4)
    ax.set_ylim(*ylim)
    ax.set_yticks(yticks)
    style_axes(ax, i == 5)
    if i < 3:
        ax.text(0.93, 0.85, name, transform=ax.transAxes, ha='right', va='center', fontsize=10.5)
    else:
        ax.text(0.04, 0.85, name, transform=ax.transAxes, ha='left', va='center', fontsize=10.5)
    ax.text(0.03, 0.14, r"$t_{1/2}$ = " + half + " y", transform=ax.transAxes,
            ha='left', va='center', fontsize=10)


fig = plt.figure(figsize=(W / 100, H / 100), dpi=100)

for i, (panel, name, half) in enumerate(zip(DDE_PANELS, STATIONS, HALF_LIFE_DDE)):
    draw_ln_panel(px_axes(fig, COL_A, ROWS_AB[i]), panel, name, half, i)

for i, (panel, name, half) in enumerate(zip(DDT_PANELS, STATIONS, HALF_LIFE_DDT)):
    draw_ln_panel(px_axes(fig, COL_B, ROWS_AB[i]), panel, name, half, i)

for i, (panel, name) in enumerate(zip(FD_PANELS, STATIONS_C)):
    span, seas, trend, mspan, meas, ylim = panel
    ax = px_axes(fig, COL_C, ROWS_C[i])
    ax.axhline(0.74, color='#6b6bff', lw=0.8, ls=':', zorder=1)
    ax.plot(np.linspace(*span, len(seas)), seas, color='k', lw=1.1, zorder=3)
    ax.plot(np.linspace(*mspan, len(meas)), meas, ls='none', marker='s', ms=2.8,
            mfc='#eeee00', mec='#5a5a00', mew=0.5, zorder=4)
    ax.plot(np.linspace(*span, len(trend)), trend, color=TREND_ORANGE, lw=1.3, zorder=5)
    ax.set_ylim(*ylim)
    ax.set_yticks(np.arange(0, 1.01, 0.2))
    ax.set_yticklabels([f"{v:.1f}" for v in np.arange(0, 1.01, 0.2)])
    style_axes(ax, i == 4, tick_size=7)
    if i < 2:
        ax.text(0.96, 0.8, name, transform=ax.transAxes, ha='right', va='center', fontsize=12.5)
    else:
        ax.text(0.03, 0.8, name, transform=ax.transAxes, ha='left', va='center', fontsize=12.5)

# titles
fig.text(218 / W, 1 - 22 / H, r"(a) $\mathbf{p}$, $\mathbf{p}$’-DDE", ha='center', va='center',
         fontsize=14, fontweight='bold')
fig.text(608 / W, 1 - 22 / H, r"(b) $\mathbf{p}$, $\mathbf{p}$’-DDT", ha='center', va='center',
         fontsize=14, fontweight='bold')
fig.text(1002 / W, 1 - 22 / H,
         r"(c) $\mathbf{F}_{\mathsf{DDTe}}$ = $\mathbf{p}$, $\mathbf{p}$’-DDT / ($\mathbf{p}$, "
         r"$\mathbf{p}$’-DDT + $\mathbf{p}$, $\mathbf{p}$’-DDE)",
         ha='center', va='center', fontsize=14.5, fontweight='bold')

fig.text(20 / W, 1 - 335 / H, r"ln ($\mathit{C}$ / pg m$^{-3}$)", rotation=90,
         ha='center', va='center', fontsize=12.5)

# legends
ab_handles = [Line2D([], [], color='k', lw=1.6),
              Line2D([], [], color=TREND_PINK, lw=1.6),
              Line2D([], [], ls='none', marker='x', ms=7, mew=1.2, color='#2f52ff')]
fig.legend(ab_handles, ["Seasonal cycle", "Trend", "Measured"], loc='center',
           bbox_to_anchor=(415 / W, 1 - 680 / H), ncol=3, frameon=False, fontsize=11.5,
           handlelength=2.6, columnspacing=1.2, handletextpad=0.7)
c_handles = [Line2D([], [], color='k', lw=1.6),
             Line2D([], [], color='#ffb520', lw=1.6),
             Line2D([], [], ls='none', marker='s', ms=11, mfc='#ffff00', mec='k', mew=1.0)]
fig.legend(c_handles, ["Seasonal cycle", "Trend", "Measured"], loc='center',
           bbox_to_anchor=(1012 / W, 1 - 680 / H), ncol=3, frameon=False, fontsize=11.5,
           handlelength=2.3, columnspacing=0.9, handletextpad=0.6)

fig.savefig("out.png", dpi=100)
